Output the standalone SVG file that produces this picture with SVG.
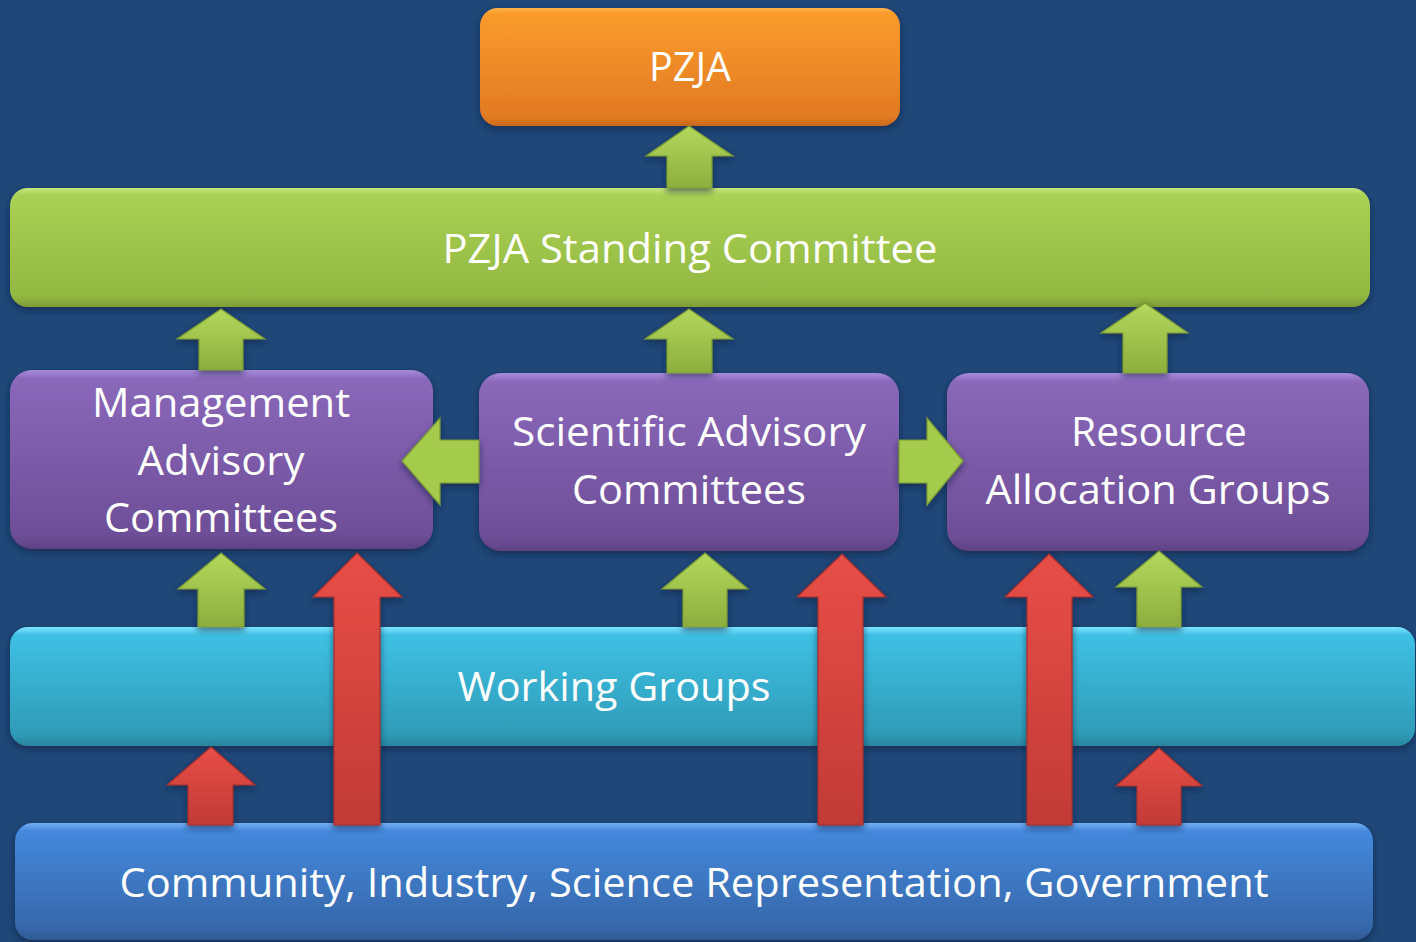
<svg xmlns="http://www.w3.org/2000/svg" width="1416" height="942" viewBox="0 0 1416 942">
<defs>
<linearGradient id="gOrange" x1="0" y1="0" x2="0" y2="1">
<stop offset="0" stop-color="#FFB24A"/><stop offset="0.05" stop-color="#FA9B2C"/><stop offset="0.92" stop-color="#E27A22"/><stop offset="1" stop-color="#C9691C"/>
</linearGradient>
<linearGradient id="gGreen" x1="0" y1="0" x2="0" y2="1">
<stop offset="0" stop-color="#C8E67E"/><stop offset="0.06" stop-color="#A9D154"/><stop offset="0.9" stop-color="#93B842"/><stop offset="1" stop-color="#7E9E36"/>
</linearGradient>
<linearGradient id="gPurple" x1="0" y1="0" x2="0" y2="1">
<stop offset="0" stop-color="#A98BDB"/><stop offset="0.05" stop-color="#8A68BA"/><stop offset="0.92" stop-color="#6E4E98"/><stop offset="1" stop-color="#5E4284"/>
</linearGradient>
<linearGradient id="gCyan" x1="0" y1="0" x2="0" y2="1">
<stop offset="0" stop-color="#7DE6FF"/><stop offset="0.07" stop-color="#3EC0E4"/><stop offset="0.9" stop-color="#2F9CB8"/><stop offset="1" stop-color="#2A859D"/>
</linearGradient>
<linearGradient id="gBlue" x1="0" y1="0" x2="0" y2="1">
<stop offset="0" stop-color="#72B0F4"/><stop offset="0.07" stop-color="#4488DC"/><stop offset="0.9" stop-color="#3667AA"/><stop offset="1" stop-color="#2E5993"/>
</linearGradient>
<linearGradient id="gArrowG" x1="0" y1="0" x2="0" y2="1">
<stop offset="0" stop-color="#B3D85C"/><stop offset="1" stop-color="#8CAE3E"/>
</linearGradient>
<linearGradient id="gArrowGH" x1="0" y1="0" x2="1" y2="0">
<stop offset="0" stop-color="#A6CC4E"/><stop offset="1" stop-color="#A6CC4E"/>
</linearGradient>
<linearGradient id="gArrowR" x1="0" y1="0" x2="0" y2="1">
<stop offset="0" stop-color="#E84E47"/><stop offset="1" stop-color="#C23A36"/>
</linearGradient>
<filter id="shadow" x="-10%" y="-20%" width="120%" height="150%">
<feDropShadow dx="0" dy="3" stdDeviation="3" flood-color="#0A1F3A" flood-opacity="0.6"/>
</filter>
</defs>
<style>
.box { filter: url(#shadow); }
.lbl { font-family: "Open Sans", "Noto Sans", "DejaVu Sans", sans-serif; font-size: 40px; fill: #FFFFFF; text-anchor: middle; }
.ag { fill: url(#gArrowG); stroke: #7A9A33; stroke-width: 1.2; stroke-linejoin: miter; filter: url(#shadow); }
.agh { fill: #A4CB4C; stroke: #7A9A33; stroke-width: 1.2; filter: url(#shadow); }
.ar { fill: url(#gArrowR); stroke: #A3302C; stroke-width: 1.2; filter: url(#shadow); }
</style>
<rect x="0" y="0" width="1416" height="942" fill="#1F4778"/>

<g id="node-pzja">
<rect class="box" x="480" y="8" width="420" height="118" rx="18" fill="url(#gOrange)"/>
<text class="lbl" x="690" y="81" textLength="82" lengthAdjust="spacingAndGlyphs">PZJA</text>
</g>
<g id="node-standing">
<rect class="box" x="10" y="188" width="1360" height="119" rx="18" fill="url(#gGreen)"/>
<text class="lbl" x="690" y="263" textLength="495" lengthAdjust="spacingAndGlyphs">PZJA Standing Committee</text>
</g>
<g id="node-mac">
<rect class="box" x="10" y="370" width="423" height="179" rx="22" fill="url(#gPurple)"/>
<text class="lbl" x="221" y="417" textLength="258" lengthAdjust="spacingAndGlyphs">Management</text>
<text class="lbl" x="221" y="475" textLength="167" lengthAdjust="spacingAndGlyphs">Advisory</text>
<text class="lbl" x="221" y="532" textLength="234" lengthAdjust="spacingAndGlyphs">Committees</text>
</g>
<g id="node-sac">
<rect class="box" x="479" y="373" width="420" height="178" rx="22" fill="url(#gPurple)"/>
<text class="lbl" x="689" y="446" textLength="354" lengthAdjust="spacingAndGlyphs">Scientific Advisory</text>
<text class="lbl" x="689" y="504" textLength="234" lengthAdjust="spacingAndGlyphs">Committees</text>
</g>
<g id="node-rag">
<rect class="box" x="947" y="373" width="422" height="178" rx="22" fill="url(#gPurple)"/>
<text class="lbl" x="1159" y="446" textLength="176" lengthAdjust="spacingAndGlyphs">Resource</text>
<text class="lbl" x="1158" y="504" textLength="345" lengthAdjust="spacingAndGlyphs">Allocation Groups</text>
</g>
<g id="node-wg">
<rect class="box" x="10" y="627" width="1405" height="119" rx="18" fill="url(#gCyan)"/>
<text class="lbl" x="614" y="701" textLength="313" lengthAdjust="spacingAndGlyphs">Working Groups</text>
</g>
<g id="node-community">
<rect class="box" x="15" y="823" width="1358" height="117" rx="18" fill="url(#gBlue)"/>
<text class="lbl" x="694" y="897" textLength="1149" lengthAdjust="spacingAndGlyphs">Community, Industry, Science Representation, Government</text>
</g>

<g id="connectors">
<polygon class="ag" points="689,126 733,156 712,156 712,188 667,188 667,156 646,156"/>
<polygon class="ag" points="221,309 265,339 243,339 243,370 199,370 199,339 177,339"/>
<polygon class="ag" points="689,309 733,339 712,339 712,373 667,373 667,339 645,339"/>
<polygon class="ag" points="1145,303 1188,333 1167,333 1167,373 1123,373 1123,333 1101,333"/>
<polygon class="ag" points="221,553 265,589 244,589 244,627 198,627 198,589 178,589"/>
<polygon class="ag" points="705,553 748,589 727,589 727,627 683,627 683,589 662,589"/>
<polygon class="ag" points="1159,551 1202,587 1181,587 1181,627 1137,627 1137,587 1116,587"/>
<polygon class="agh" points="402,461 440,418 440,440 479,440 479,483 440,483 440,505"/>
<polygon class="agh" points="963,461 927,418 927,440 899,440 899,483 927,483 927,505"/>
<polygon class="ar" points="211,747 255,785 233,785 233,825 188,825 188,785 167,785"/>
<polygon class="ar" points="357,553 402,597 380,597 380,825 334,825 334,597 313,597"/>
<polygon class="ar" points="842,554 886,597 863,597 863,825 818,825 818,597 797,597"/>
<polygon class="ar" points="1049,554 1093,597 1072,597 1072,825 1027,825 1027,597 1005,597"/>
<polygon class="ar" points="1159,748 1202,786 1181,786 1181,825 1137,825 1137,786 1116,786"/>
</g>
</svg>
